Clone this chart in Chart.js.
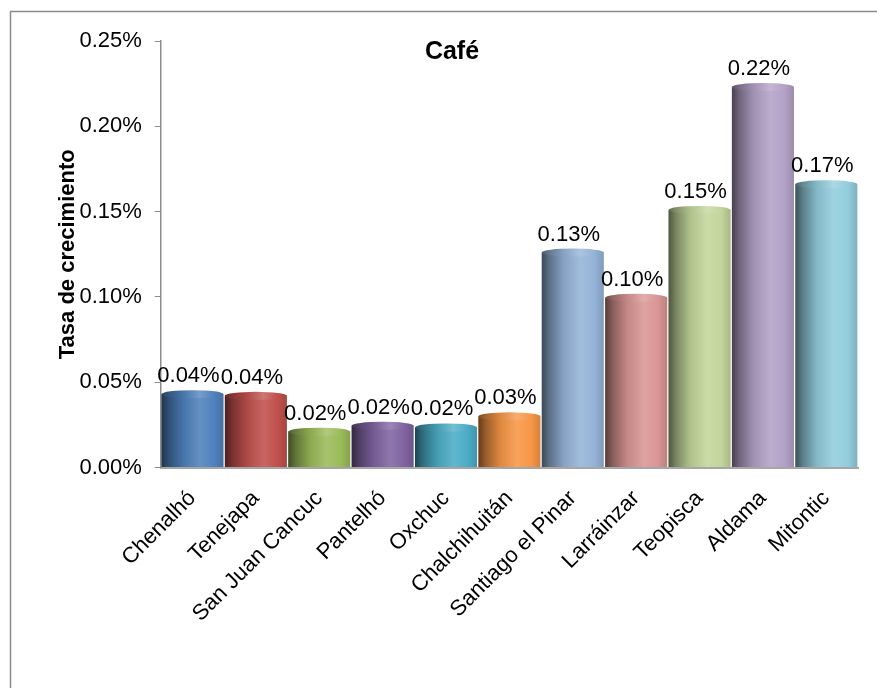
<!DOCTYPE html>
<html>
<head>
<meta charset="utf-8">
<script src="https://cdn.jsdelivr.net/npm/chart.js@4/dist/chart.umd.min.js"></script>
<style>
html,body{margin:0;padding:0;background:#fff;}
#wrap{width:877px;height:688px;position:relative;}
</style>
</head>
<body>
<div id="wrap"><canvas id="c" width="877" height="688"></canvas></div>
<script>
const chartTitle = 'Café';
const yAxisTitle = 'Tasa de crecimiento';
const categories = ['Chenalhó','Tenejapa','San Juan Cancuc','Pantelhó','Oxchuc','Chalchihuitán','Santiago el Pinar','Larráinzar','Teopisca','Aldama','Mitontic'];
const values = [0.043, 0.042, 0.021, 0.0245, 0.0235, 0.030, 0.126, 0.0995, 0.151, 0.223, 0.166];
const barColors = ['#4F81BD','#C0504D','#9BBB59','#8064A2','#4BACC6','#F79646','#95B3D7','#D99694','#C3D69B','#B3A2C7','#93CDDD'];
const yTicks = [0, 0.05, 0.10, 0.15, 0.20, 0.25];

const FONT = '"Liberation Sans", Arial, sans-serif';

function hexToRgb(h){h=h.replace('#','');return [parseInt(h.substr(0,2),16),parseInt(h.substr(2,2),16),parseInt(h.substr(4,2),16)];}
function mix(h, target, t){const c=hexToRgb(h);return 'rgb('+c.map((v)=>Math.round(v+(target-v)*t)).join(',')+')';}
function dark(h,t){return mix(h,0,t);}
function light(h,t){return mix(h,255,t);}

const BAR_PCT = 0.98;

function cylGradient(chart, idx, x, w, f){
  const ctx = chart.ctx;
  const base = barColors[idx];
  f = f || 0;
  const g = ctx.createLinearGradient(x - w/2, 0, x + w/2, 0);
  g.addColorStop(0, dark(base, 0.6 - f));
  g.addColorStop(0.12, dark(base, 0.38 - f*0.5));
  g.addColorStop(0.35, dark(base, 0.1));
  g.addColorStop(0.62, light(base, 0.12 + f));
  g.addColorStop(0.85, base);
  g.addColorStop(1, dark(base, 0.14));
  return g;
}

const cylinderPlugin = {
  id: 'cylinder',
  afterDatasetsDraw(chart){
    const ctx = chart.ctx;
    const meta = chart.getDatasetMeta(0);
    meta.data.forEach((el, i) => {
      const w = el.width, x = el.x, y = el.y;
      ctx.save();
      ctx.beginPath();
      ctx.ellipse(x, y, w/2, 4, 0, 0, Math.PI*2);
      ctx.fillStyle = cylGradient(chart, i, x, w, 0.1);
      ctx.fill();
      ctx.restore();
    });
  }
};

const labelPlugin = {
  id: 'dataLabels',
  afterDatasetsDraw(chart){
    const ctx = chart.ctx;
    const meta = chart.getDatasetMeta(0);
    ctx.save();
    ctx.font = '22px ' + FONT;
    ctx.fillStyle = '#000';
    ctx.textAlign = 'center';
    ctx.textBaseline = 'alphabetic';
    meta.data.forEach((el, i) => {
      ctx.fillText(values[i].toFixed(2) + '%', el.x - 4, el.y - 12);
    });
    ctx.restore();
  }
};

const framePlugin = {
  id: 'frame',
  beforeDraw(chart){
    const ctx = chart.ctx;
    ctx.save();
    ctx.fillStyle = '#fff';
    ctx.fillRect(0,0,chart.width,chart.height);
    ctx.strokeStyle = '#8c8c8c';
    ctx.lineWidth = 1.5;
    ctx.beginPath();
    ctx.moveTo(10.5, chart.height + 5);
    ctx.lineTo(10.5, 11.5);
    ctx.lineTo(chart.width + 5, 11.5);
    ctx.stroke();
    ctx.restore();
  },
  afterDraw(chart){
    const ctx = chart.ctx;
    ctx.save();
    ctx.font = 'bold 25px ' + FONT;
    ctx.fillStyle = '#000';
    ctx.textAlign = 'center';
    ctx.textBaseline = 'middle';
    ctx.fillText(chartTitle, 452, 52);
    ctx.restore();
  }
};

new Chart(document.getElementById('c'), {
  type: 'bar',
  data: {
    labels: categories,
    datasets: [{
      data: values,
      backgroundColor: (c) => {
        const chart = c.chart;
        if (!chart.chartArea || c.type !== 'data' || !chart.scales.x) return barColors[c.dataIndex];
        const xs = chart.scales.x;
        const x = xs.getPixelForValue(c.dataIndex);
        const w = (chart.chartArea.right - chart.chartArea.left) / categories.length * BAR_PCT;
        return cylGradient(chart, c.dataIndex, x, w, 0);
      },
      borderWidth: 0,
      barPercentage: BAR_PCT,
      categoryPercentage: 1.0
    }]
  },
  options: {
    responsive: false,
    animation: false,
    devicePixelRatio: 1,
    layout: { padding: { left: 40, top: 41, right: 19, bottom: 43 } },
    plugins: {
      legend: { display: false },
      title: { display: false },
      tooltip: { enabled: false }
    },
    scales: {
      x: {
        grid: { display: false, drawTicks: false },
        border: { display: true, color: '#a6a6a6', width: 2 },
        ticks: {
          color: '#000',
          font: { family: FONT, size: 22 },
          maxRotation: 45, minRotation: 45,
          padding: 18,
          autoSkip: false
        }
      },
      y: {
        min: 0, max: 0.25,
        afterBuildTicks: (s) => { s.ticks = yTicks.map(v => ({ value: v })); },
        grid: { display: true, drawOnChartArea: false, drawTicks: true, tickLength: 6, color: '#8c8c8c' },
        border: { display: true, color: '#8c8c8c', width: 1.5 },
        ticks: {
          color: '#000',
          font: { family: FONT, size: 22 },
          padding: 13,
          callback: (v) => Number(v).toFixed(2) + '%'
        },
        title: {
          display: true,
          text: yAxisTitle,
          color: '#000',
          font: { family: FONT, size: 22, weight: 'bold' },
          padding: { top: 15, bottom: -15 }
        }
      }
    }
  },
  plugins: [framePlugin, cylinderPlugin, labelPlugin]
});
</script>
</body>
</html>
